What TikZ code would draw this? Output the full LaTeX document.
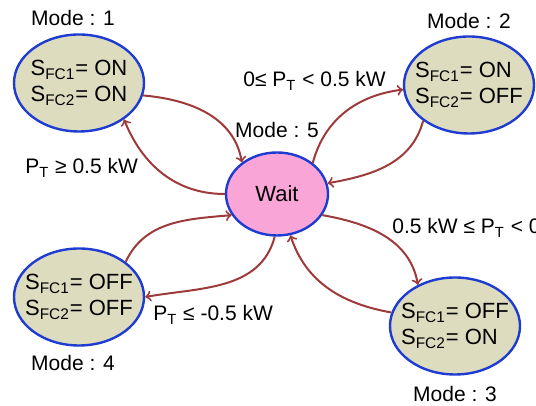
\documentclass[tikz,border=0pt]{standalone}
\usepackage{fontspec}
\setmainfont{Liberation Sans}
\usetikzlibrary{shapes,arrows,positioning}

\definecolor{modefill}{RGB}{221,220,190}
\definecolor{modeblue}{RGB}{30,60,210}
\definecolor{waitpink}{RGB}{250,165,215}
\definecolor{arrowred}{RGB}{158,58,58}

\begin{document}
\begin{tikzpicture}[x=0.5pt, y=0.5pt,
  modebox/.style={ellipse, draw=modeblue, line width=1.2pt, fill=modefill, minimum width=65pt, minimum height=48.5pt, align=left, inner xsep=-4pt, inner ysep=0pt, font=\fontsize{11}{13}\selectfont},
  waitbox/.style={ellipse, draw=modeblue, line width=1.2pt, fill=waitpink, minimum width=51pt, minimum height=41.5pt, inner sep=0pt, font=\fontsize{11}{13}\selectfont},
  lbl/.style={font=\fontsize{10.5}{12}\selectfont},
  arrow/.style={->, >=to, draw=arrowred, line width=1pt}
]
  \useasboundingbox (0,0) rectangle (536,406);
  \node[waitbox] (wait) at (277,212) {Wait};
  \node[modebox] (m1) at (79,323) {S\textsubscript{FC1}= ON\\S\textsubscript{FC2}= ON};
  \node[modebox] (m2) at (469,321) {S\textsubscript{FC1}= ON\\S\textsubscript{FC2}= OFF};
  \node[modebox] (m3) at (455,80) {S\textsubscript{FC1}= OFF\\S\textsubscript{FC2}= ON};
  \node[modebox] (m4) at (79,109) {S\textsubscript{FC1}= OFF\\S\textsubscript{FC2}= OFF};
  \node[lbl, above=3.5pt of wait] (mode5) {Mode : 5};
  \node[lbl, above=0.5pt of m1, xshift=-3pt] (mode1) {Mode : 1};
  \node[lbl, above=0pt of m2] (mode2) {Mode : 2};
  \node[lbl, below=2pt of m3] (mode3) {Mode : 3};
  \node[lbl, below=1pt of m4, xshift=-3pt] (mode4) {Mode : 4};
  % conditions
  \node[lbl, anchor=base west, inner sep=0pt] (c12) at (243,319) {0≤ P\textsubscript{T} < 0.5 kW};
  \node[lbl, anchor=base west, inner sep=0pt] (c1) at (25,232) {P\textsubscript{T} ≥ 0.5 kW};
  \node[lbl, anchor=base west, inner sep=0pt] (c4) at (153,85) {P\textsubscript{T} ≤ -0.5 kW};
  \node[lbl, anchor=base west, inner sep=0pt] (c3) at (392,172) {0.5 kW ≤ P\textsubscript{T} < 0};
  \draw[arrow] (m1.-11) to[out=-5, in=100] (wait.138);
  \draw[arrow] (wait.180) to[out=180, in=-68] (m1.-39);
  \draw[arrow] (wait.41) to[out=75, in=187] (m2.184);
  \draw[arrow] (m2.218) to[out=-105, in=10] (wait.12);
  \draw[arrow] (wait.-25) to[out=-10, in=100] (m3.132);
  \draw[arrow] (m3.168) to[out=170, in=-72] (wait.-72);
  \draw[arrow] (m4.37) to[out=65, in=185] (wait.205);
  \draw[arrow] (wait.-93) to[out=-105, in=10] (m4.0);
\end{tikzpicture}
\end{document}
